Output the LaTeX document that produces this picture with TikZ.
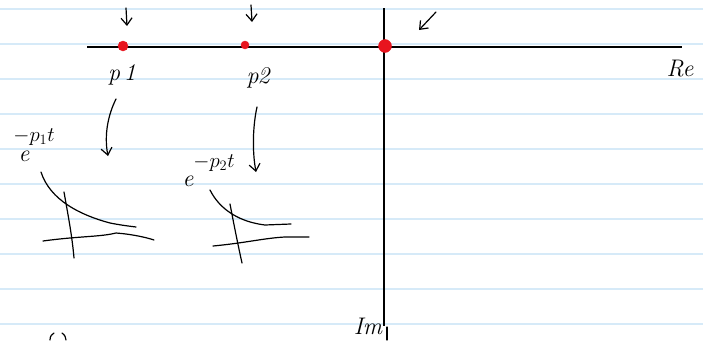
\documentclass[tikz,border=0pt]{standalone}
\usetikzlibrary{arrows.meta}
\definecolor{rule}{RGB}{214,234,248}
\definecolor{dotred}{RGB}{232,20,30}
\tikzset{
  ink/.style={line width=1.2pt, line cap=round, line join=round},
  axis/.style={line width=1.3pt},
  ruleline/.style={rule, line width=1.1pt},
  pole/.style={circle, fill=dotred, draw=dotred, inner sep=0pt},
  lbl/.style={font=\fontsize{24}{24}\selectfont\itshape, inner sep=1pt},
  sup/.style={font=\fontsize{20}{20}\selectfont, inner sep=1pt},
  tip/.style={-{Straight Barb[length=7pt,width=11pt]}, ink}
}
\begin{document}
\begin{tikzpicture}[x=1pt,y=-1pt]
\useasboundingbox (0,0) rectangle (703,340);
\fill[white] (0,0) rectangle (703,340);
% ruled paper
\foreach \yy in {9,44,79,114,149,184,219,254,289,324}
  \draw[ruleline] (0,\yy) -- (703,\yy);
% axes
\coordinate (reL) at (87,47);
\coordinate (reR) at (682,47);
\coordinate (imT) at (384,8);
\coordinate (imB) at (384,326);
\draw[axis] (reL) -- (reR);
\draw[axis] (imT) -- (imB);
\coordinate (imB2) at (387,327);
\coordinate (imB3) at (387,340);
\draw[ink] (imB2) -- (imB3);
% poles
\node[pole, minimum size=10pt] (p1) at (123,46) {};
\node[pole, minimum size=8pt] (p2) at (245,45) {};
\node[pole, minimum size=13pt] (p0) at (385,46) {};
% labels
\node[lbl] (lp1) at (122,75) {p\,1};
\node[lbl] (lp2) at (258,78) {p\kern-1pt2};
\node[lbl] (re) at (680,69) {Re};
\node[lbl] (im) at (368,326) {Im};
% small arrows above poles
\coordinate (a1s) at (126,8);
\coordinate (a1e) at (127,26);
\draw[tip] (a1s) -- (a1e);
\coordinate (a2s) at (251,5);
\coordinate (a2e) at (252,22);
\draw[tip] (a2s) -- (a2e);
\coordinate (a3s) at (436,12);
\coordinate (a3e) at (419,30);
\draw[tip] (a3s) -- (a3e);
% curved arrows to exponentials
\coordinate (c1s) at (116,99);
\coordinate (c1e) at (108,156);
\draw[tip] (c1s) .. controls (108,115) and (104,135) .. (c1e);
\coordinate (c2s) at (257,107);
\coordinate (c2e) at (256,172);
\draw[tip] (c2s) .. controls (253,125) and (252,150) .. (c2e);
% exponential labels
\node[lbl] (e1) at (24,156) {e};
\node[sup] (e1x) at (34,137) {$-p_1t$};
\node[lbl] (e2) at (188,181) {e};
\node[sup] (e2x) at (214,163) {$-p_2t$};
% left plot
\coordinate (l1a) at (64,192);
\coordinate (l1b) at (74,258);
\draw[ink] (l1a) .. controls (68,215) and (72,235) .. (l1b);
\coordinate (l2a) at (43,241);
\coordinate (l2b) at (154,240);
\draw[ink] (l2a) .. controls (80,236) and (100,237) .. (116,233) .. controls (130,234) and (145,237) .. (l2b);
\coordinate (l3a) at (41,172);
\coordinate (l3b) at (136,227);
\draw[ink] (l3a) .. controls (50,200) and (80,215) .. (110,223) .. controls (120,225) and (128,226) .. (l3b);
% right plot
\coordinate (r1a) at (230,204);
\coordinate (r1b) at (242,263);
\draw[ink] (r1a) .. controls (234,225) and (238,245) .. (r1b);
\coordinate (r2a) at (213,246);
\coordinate (r2b) at (309,237);
\draw[ink] (r2a) .. controls (245,243) and (265,238) .. (285,237) -- (r2b);
\coordinate (r3a) at (210,190);
\coordinate (r3b) at (291,224);
\draw[ink] (r3a) .. controls (220,210) and (240,222) .. (265,225) -- (r3b);
% partial mark at bottom left
\coordinate (b1) at (50,340);
\draw[ink] (b1) .. controls (50,336) and (52,334) .. (54,333);
\coordinate (b2) at (62,333);
\draw[ink] (b2) .. controls (65,335) and (66,338) .. (66,340);
\end{tikzpicture}
\end{document}
